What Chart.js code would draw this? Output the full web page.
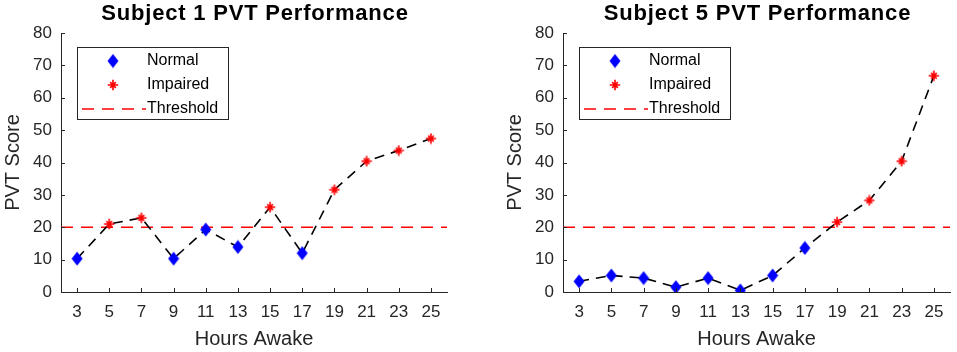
<!DOCTYPE html>
<html>
<head>
<meta charset="utf-8">
<title>PVT Performance</title>
<script src="https://cdn.jsdelivr.net/npm/chart.js@4.4.1/dist/chart.umd.min.js"></script>
<style>
  html, body { margin: 0; padding: 0; background: #fff; }
  #wrap { position: relative; width: 957px; height: 352px; }
  canvas { position: absolute; top: 0; }
</style>
</head>
<body>
<div id="wrap">
  <canvas id="left" width="478" height="352" style="left:0"></canvas>
  <canvas id="right" width="479" height="352" style="left:478px"></canvas>
</div>
<script>
// values
const hours = [3, 5, 7, 9, 11, 13, 15, 17, 19, 21, 23, 25];
const subject1Scores = [10.3, 21.0, 22.9, 10.3, 19.3, 13.9, 26.2, 12.0, 31.6, 40.4, 43.7, 47.4];
const subject5Scores = [3.3, 5.1, 4.3, 1.5, 4.3, 0.5, 5.1, 13.6, 21.6, 28.3, 40.4, 66.8];
const thresholdScore = 20;
const hourRange = [2, 26];
const scoreRange = [0, 80];
const scoreStep = 10;

const FONT = '"Liberation Sans", Arial, Helvetica, sans-serif';
const AXIS = '#262626';

// MATLAB-like markers
function makeDiamond() {
  const c = document.createElement('canvas');
  c.width = 12; c.height = 15;
  const g = c.getContext('2d');
  g.fillStyle = '#0000ff';
  g.beginPath();
  g.moveTo(6, 0.5); g.lineTo(11.5, 7.5); g.lineTo(6, 14.5); g.lineTo(0.5, 7.5);
  g.closePath();
  g.fill();
  return c;
}
function makeStar() {
  const c = document.createElement('canvas');
  c.width = 12; c.height = 12;
  const g = c.getContext('2d');
  g.strokeStyle = '#ff0000';
  g.lineWidth = 1.6;
  g.beginPath();
  for (let k = 0; k < 4; k++) {
    const a = k * Math.PI / 4, r = k % 2 ? 4 : 5.2;
    g.moveTo(6 - r * Math.cos(a), 6 - r * Math.sin(a));
    g.lineTo(6 + r * Math.cos(a), 6 + r * Math.sin(a));
  }
  g.stroke();
  g.fillStyle = '#ff0000';
  g.beginPath(); g.arc(6, 6, 2.2, 0, Math.PI * 2); g.fill();
  return c;
}
const diamond = makeDiamond();
const star = makeStar();

const decor = {
  id: 'decor',
  afterDraw(chart, args, opts) {
    const { ctx, chartArea: a, scales: { x, y } } = chart;
    ctx.save();

    // ticks pointing into the axes
    ctx.strokeStyle = AXIS;
    ctx.lineWidth = 1;
    ctx.beginPath();
    hours.forEach(h => {
      const px = Math.round(x.getPixelForValue(h)) + 0.5;
      ctx.moveTo(px, a.bottom); ctx.lineTo(px, a.bottom - 4);
    });
    y.ticks.forEach(t => {
      const py = Math.round(y.getPixelForValue(t.value)) + 0.5;
      ctx.moveTo(a.left, py); ctx.lineTo(a.left + 4, py);
    });
    ctx.stroke();

    // title
    ctx.fillStyle = '#000';
    ctx.font = 'bold 22px ' + FONT;
    ctx.letterSpacing = '0.8px';
    ctx.textAlign = 'center';
    ctx.textBaseline = 'middle';
    ctx.fillText(opts.title, (a.left + a.right) / 2 + 1, 14);
    ctx.letterSpacing = '0px';

    // legend box
    const bx = a.left + 16, by = a.top + 14, bw = 151, bh = 72;
    ctx.fillStyle = '#fff';
    ctx.fillRect(bx, by, bw, bh);
    ctx.strokeStyle = AXIS;
    ctx.strokeRect(bx + 0.5, by + 0.5, bw, bh);

    ctx.drawImage(diamond, bx + 36 - diamond.width / 2, by + 14 - diamond.height / 2);
    ctx.drawImage(star, bx + 36 - star.width / 2, by + 38 - star.height / 2);
    ctx.strokeStyle = '#ff0000';
    ctx.lineWidth = 1.6;
    ctx.setLineDash([12, 8]);
    ctx.beginPath();
    ctx.moveTo(bx + 5, by + 62); ctx.lineTo(bx + 69, by + 62);
    ctx.stroke();
    ctx.setLineDash([]);

    ctx.fillStyle = '#000';
    ctx.font = '16px ' + FONT;
    ctx.textAlign = 'left';
    ctx.fillText('Normal', bx + 70, by + 14);
    ctx.fillText('Impaired', bx + 70, by + 38);
    ctx.fillText('Threshold', bx + 70, by + 62);
    ctx.restore();
  }
};

function makeChart(id, title, scores, pad) {
  const points = hours.map((h, i) => ({ x: h, y: scores[i] }));
  const normal = points.filter(p => p.y <= thresholdScore);
  const impaired = points.filter(p => p.y > thresholdScore);

  return new Chart(document.getElementById(id), {
    type: 'line',
    data: {
      datasets: [
        { data: normal, showLine: false, pointStyle: diamond, pointRadius: 6, order: 0 },
        { data: impaired, showLine: false, pointStyle: star, pointRadius: 5, order: 0 },
        {
          data: points, borderColor: '#000', borderWidth: 1.6, borderDash: [10, 7],
          pointRadius: 0, tension: 0, order: 1
        },
        {
          data: hourRange.map(h => ({ x: h, y: thresholdScore })),
          borderColor: '#ff0000', borderWidth: 1.6, borderDash: [12, 8], pointRadius: 0, order: 2
        }
      ]
    },
    options: {
      responsive: false,
      animation: false,
      layout: { padding: pad },
      plugins: {
        legend: { display: false },
        tooltip: { enabled: false },
        decor: { title: title }
      },
      scales: {
        x: {
          type: 'linear',
          min: hourRange[0],
          max: hourRange[1],
          afterBuildTicks: s => { s.ticks = hours.map(v => ({ value: v })); },
          afterFit: s => { s.height = 60; },
          grid: { display: false, drawTicks: false },
          border: { display: true, color: AXIS, width: 1 },
          ticks: { autoSkip: false, maxRotation: 0, padding: 10, color: AXIS, font: { family: FONT, size: 17 } },
          title: { display: true, text: 'Hours Awake', color: AXIS, padding: { top: 0, bottom: 1 }, font: { family: FONT, size: 20 } }
        },
        y: {
          min: scoreRange[0],
          max: scoreRange[1],
          afterFit: s => { s.width = 61; },
          grid: { display: false, drawTicks: false },
          border: { display: true, color: AXIS, width: 1 },
          ticks: { stepSize: scoreStep, padding: 9, color: AXIS, font: { family: FONT, size: 17 } },
          title: { display: true, text: 'PVT Score', color: AXIS, padding: { top: 1, bottom: 0 }, font: { family: FONT, size: 20 } }
        }
      }
    },
    plugins: [decor]
  });
}

makeChart('left', 'Subject 1 PVT Performance', subject1Scores, { left: 0, right: 31, top: 33, bottom: 0 });
makeChart('right', 'Subject 5 PVT Performance', subject5Scores, { left: 24, right: 5, top: 33, bottom: 0 });
</script>
</body>
</html>
